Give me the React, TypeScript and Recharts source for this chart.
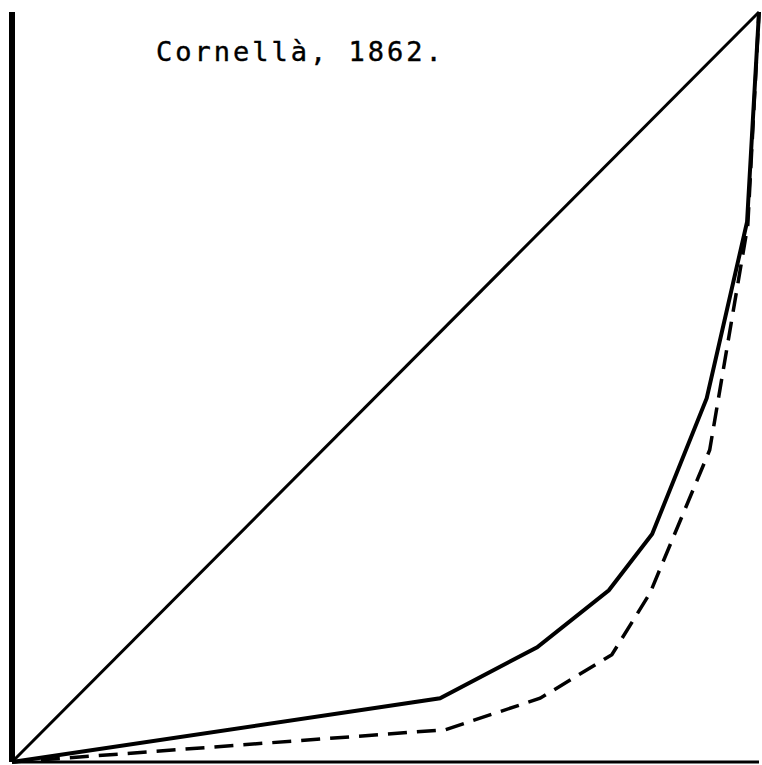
import { LineChart, Line, XAxis, YAxis } from "recharts";

// cumulative share of population (x) vs cumulative share of income (y), percent
const equalityX = [0, 100];
const equalityY = [0, 100];

const solidX = [0, 57.3, 70.3, 79.9, 85.7, 93.0, 98.4, 100];
const solidY = [0, 8.5, 15.3, 22.9, 30.4, 48.5, 72.0, 100];

const dashedX = [0, 58.0, 70.7, 80.3, 85.4, 93.4, 98.5, 100];
const dashedY = [0, 4.3, 8.5, 14.3, 22.5, 41.6, 71.6, 100];

const title = "Cornellà, 1862.";

const toPoints = (xs: number[], ys: number[]) =>
  xs.map((x, i) => ({ x, y: ys[i] }));

export default function App() {
  const equality = toPoints(equalityX, equalityY);
  const solid = toPoints(solidX, solidY);
  const dashed = toPoints(dashedX, dashedY);

  return (
    <div
      style={{
        position: "absolute",
        left: 0,
        top: 0,
        width: 762,
        height: 765,
        background: "#fff",
      }}
    >
      <LineChart
        width={762}
        height={765}
        margin={{ top: 12, right: 3, left: 9, bottom: 0 }}
      >
        <XAxis
          type="number"
          dataKey="x"
          domain={[0, 100]}
          height={3}
          tick={false}
          tickLine={false}
          axisLine={{ stroke: "#000", strokeWidth: 3 }}
        />
        <YAxis
          type="number"
          dataKey="y"
          domain={[0, 100]}
          width={3}
          tick={false}
          tickLine={false}
          axisLine={{ stroke: "#000", strokeWidth: 6 }}
        />
        <Line
          data={equality}
          dataKey="y"
          stroke="#000"
          strokeWidth={3}
          dot={false}
          isAnimationActive={false}
        />
        <Line
          data={solid}
          dataKey="y"
          stroke="#000"
          strokeWidth={4}
          dot={false}
          isAnimationActive={false}
        />
        <Line
          data={dashed}
          dataKey="y"
          stroke="#000"
          strokeWidth={3.5}
          strokeDasharray="19 10"
          dot={false}
          isAnimationActive={false}
        />
      </LineChart>
      <svg
        width={762}
        height={765}
        style={{ position: "absolute", left: 0, top: 0, pointerEvents: "none" }}
      >
        <text
          x={156}
          y={61}
          fontFamily="'DejaVu Sans Mono', monospace"
          fontSize={27}
          letterSpacing={3}
          stroke="#000"
          strokeWidth={0.4}
          fill="#000"
        >
          {title}
        </text>
      </svg>
    </div>
  );
}
